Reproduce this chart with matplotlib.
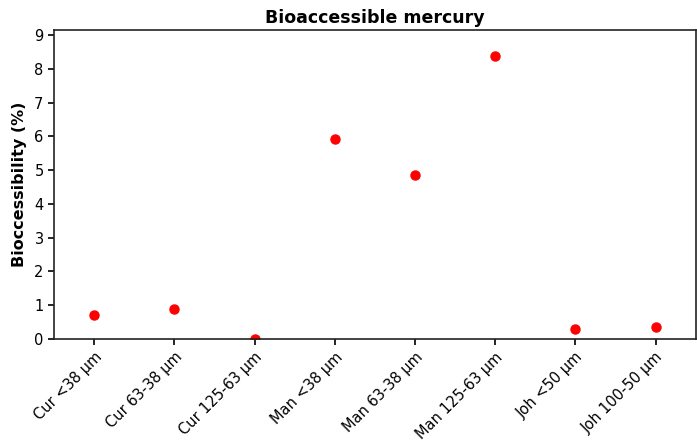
import matplotlib
matplotlib.use('Agg')
import matplotlib.pyplot as plt

samples = ['Cur <38 µm', 'Cur 63-38 µm', 'Cur 125-63 µm', 'Man <38 µm',
           'Man 63-38 µm', 'Man 125-63 µm', 'Joh <50 µm', 'Joh 100-50 µm']
bioaccess = [0.70, 0.88, 0.0, 5.93, 4.85, 8.37, 0.30, 0.35]

fig = plt.figure(figsize=(6.97, 4.44), dpi=100)
ax = fig.add_axes([0.0775, 0.2365, 0.9205, 0.696])

x = range(len(samples))
ax.plot(x, bioaccess, 'o', color='red', markersize=6.5, clip_on=True)

ax.set_xlim(-0.5, 7.5)
ax.set_ylim(0, 9.15)
ax.set_yticks(range(0, 10))
ax.set_xticks(list(x))
ax.set_xticklabels(samples, rotation=45, ha='right', rotation_mode='anchor', fontsize=10.5)
ax.tick_params(axis='y', labelsize=10.5)
ax.tick_params(length=4, width=1.2)
for s in ax.spines.values():
    s.set_linewidth(1.2)
    s.set_color('#222222')

ax.set_ylabel('Bioccessibility (%)', fontsize=11.5, fontweight='bold', labelpad=5)
ax.set_title('Bioaccessible mercury', fontsize=12.5, fontweight='bold', pad=5)

fig.savefig('out.png', dpi=100)
